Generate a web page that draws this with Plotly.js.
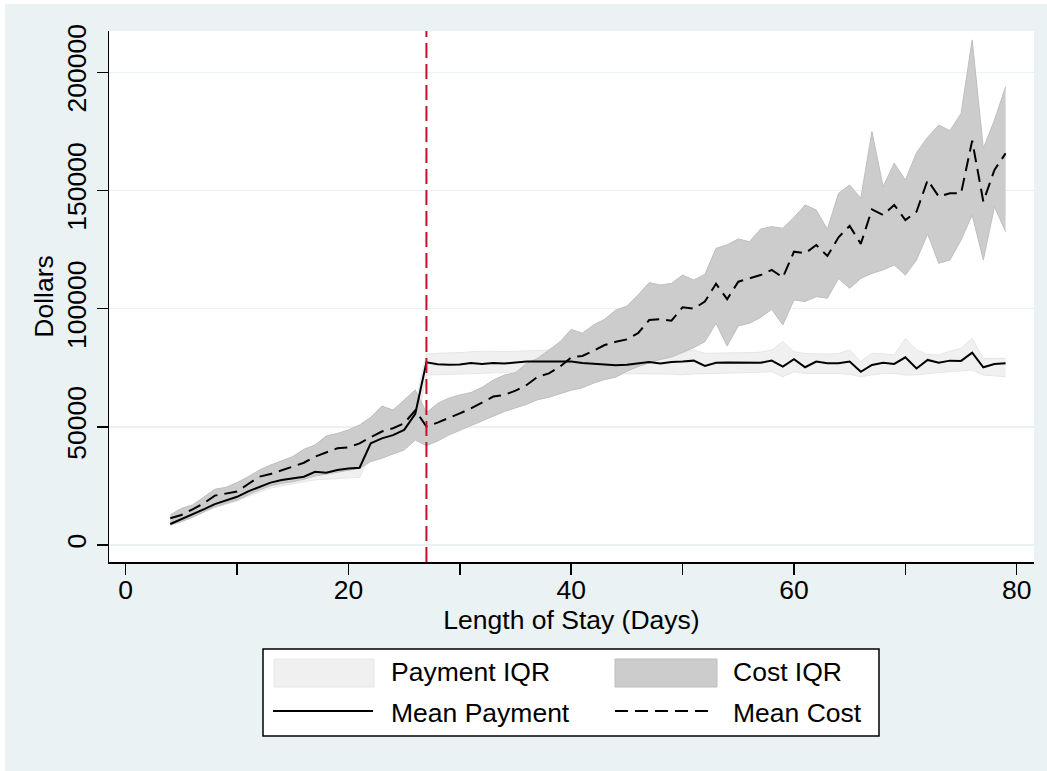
<!DOCTYPE html>
<html>
<head>
<meta charset="utf-8">
<script src="https://cdn.plot.ly/plotly-3.0.1.min.js"></script>
<style>
  html, body { margin: 0; padding: 0; background: #ffffff; }
  #chart { position: absolute; left: 5px; top: 4px; width: 1042px; height: 767px; }
</style>
</head>
<body>
<div id="chart"></div>
<script>
// ---------------- DATA ----------------
const days = [4,5,6,7,8,9,10,11,12,13,14,15,16,17,18,19,20,21,22,23,24,25,26,27,28,29,
  30,31,32,33,34,35,36,37,38,39,40,41,42,43,44,45,46,47,48,49,50,51,52,53,54,55,56,57,58,59,
  60,61,62,63,64,65,66,67,68,69,70,71,72,73,74,75,76,77,78,79];

const meanPayment = [8900,10900,13000,15100,17300,18900,20400,22700,24700,26400,27500,28200,28900,31000,30600,31700,32400,32700,43000,45100,46500,48700,55500,
  77300,76500,76300,76400,77000,76600,77000,76800,77200,77600,77600,77600,77400,77600,77000,76600,76400,76000,76300,76800,77400,76800,77400,77600,78000,
  75800,77100,77200,77100,77100,77100,78000,75500,78600,75200,77600,76900,76900,77600,73300,76200,77100,76600,79400,74700,78300,77100,78000,77900,81400,75200,76600,76900];

const meanCost = [11300,12700,15100,17600,20900,21600,22600,25800,28900,30000,31700,33100,34800,37400,39100,40900,41300,43000,45600,48000,49400,51500,57000,
  50100,51800,53600,55700,57800,60200,62800,63500,65300,67700,71200,72600,75500,79400,80000,82200,84600,86000,87000,89600,95200,95500,94900,100600,100000,
  103000,110500,104000,111400,112800,114200,116400,113200,124100,123400,126900,122300,130200,135000,127400,142000,139600,143900,137500,141000,154400,147400,148800,148800,171100,145300,158700,165700];

const costIQRLow = [8500,9900,11700,14100,16200,17600,19000,21200,23300,25000,26100,26800,27800,29200,30000,31000,31700,32400,35300,36700,38500,40200,44400,
  42000,44000,46500,48500,50500,52500,54500,56500,58000,59500,61500,62500,64000,65500,66500,68500,70000,71000,73500,75500,77000,78500,79500,81500,83500,
  86000,93800,84200,92700,93800,96300,99700,93100,103700,103000,105100,104400,112800,108600,112800,114900,116400,118500,114200,120600,131600,119200,120600,129000,139600,120600,143100,132600];

const costIQRHigh = [12700,15500,16900,20400,23600,24400,26400,28900,31700,33800,35700,37400,40500,42300,46100,47200,48700,50800,54000,58800,57100,61300,65600,
  56000,59900,62100,63500,64500,66700,69800,71900,72900,76900,79000,82500,86000,91200,89600,93100,95500,99400,101100,105800,111000,110000,110700,114200,112100,
  114500,125500,127000,129500,128300,133700,134700,134000,138600,143900,141700,133600,148800,152300,146700,174900,151600,161500,154400,166000,172500,177700,175300,182600,213700,167800,179800,193900];

const payIQRLow = [8000,9800,11800,13800,15800,17200,18600,20600,22400,24000,25000,25800,26500,27600,27800,28200,28400,28600,38500,40500,42000,44000,48000,
  71900,72000,72000,72300,72500,72600,72900,72900,73000,72900,72800,72600,72600,72600,72500,72400,72400,72600,72600,72700,72600,72400,72300,72000,72400,
  72600,72600,72700,72800,72900,73100,73300,71200,73300,72600,72600,72600,72600,72200,71200,72000,72600,72600,71900,72000,72600,73000,73300,73600,74000,71900,71500,71200];

const payIQRHigh = [10000,12200,14300,16500,18800,20500,22200,24500,26800,28500,29800,30600,31400,33500,33200,34400,35000,35400,47500,49500,51000,53500,60000,
  80800,81100,81100,81400,81800,82000,82000,81800,82000,82300,82500,82500,82500,82500,82400,82200,82000,81800,81800,81800,81800,81800,81700,81400,82500,
  81100,81100,81300,81300,81400,81600,82500,86000,81800,81000,80800,80800,81000,82500,77600,81100,80900,80400,87400,82500,80600,80400,82000,83200,87400,79000,79000,79000];

const cutoffDay = 27;
const xTickVals = [0,10,20,30,40,50,60,70,80];
const xTickText = ['0','','20','','40','','60','','80'];
const yTickVals = [0,50000,100000,150000,200000];
const yTickText = ['0','50000','100000','150000','200000'];
const legendLabels = ['Payment IQR','Cost IQR','Mean Payment','Mean Cost'];

// ---------------- STYLE ----------------
const FONT = 'Liberation Sans, Arial, Helvetica, sans-serif';
const FS = 26.5;
const BG = '#EAF2F3';
const PAY_FILL = '#F0F0F0', PAY_EDGE = '#E6E6E6';
const COST_FILL = '#CCCCCC', COST_EDGE = '#BEBEBE';
const RED = '#C8102E';
const COST_DASH = '13px,7px';

// plot area geometry (div pixels)
const W = 1042, H = 767;
const M = {l:104, r:13, t:27, b:209};
const PW = W - M.l - M.r, PH = H - M.t - M.b;
// page pixel -> paper coordinate helpers (div is offset by 5,4 on the page)
const px = v => (v - 5 - M.l) / PW;
const py = v => (H - M.b - (v - 4)) / PH;

const traces = [
  {x: days, y: payIQRLow, type: 'scatter', mode: 'lines', line: {color: PAY_EDGE, width: 1}, hoverinfo: 'skip', showlegend: false},
  {x: days, y: payIQRHigh, type: 'scatter', mode: 'lines', fill: 'tonexty', fillcolor: PAY_FILL, line: {color: PAY_EDGE, width: 1}, name: legendLabels[0], showlegend: false},
  {x: days, y: costIQRLow, type: 'scatter', mode: 'lines', line: {color: COST_EDGE, width: 1}, hoverinfo: 'skip', showlegend: false},
  {x: days, y: costIQRHigh, type: 'scatter', mode: 'lines', fill: 'tonexty', fillcolor: COST_FILL, line: {color: COST_EDGE, width: 1}, name: legendLabels[1], showlegend: false},
  {x: days, y: meanPayment, type: 'scatter', mode: 'lines', line: {color: '#000000', width: 2}, name: legendLabels[2], showlegend: false},
  {x: days, y: meanCost, type: 'scatter', mode: 'lines', line: {color: '#000000', width: 2, dash: COST_DASH}, name: legendLabels[3], showlegend: false}
];

const shapes = [
  {type: 'line', xref: 'x', yref: 'paper', x0: cutoffDay, x1: cutoffDay, y0: 0, y1: 1,
   line: {color: RED, width: 2, dash: '15px,6px'}, layer: 'above'},
  // legend box
  {type: 'rect', xref: 'paper', yref: 'paper', x0: px(263), x1: px(879), y0: py(736), y1: py(649),
   line: {color: '#000000', width: 1.5}, fillcolor: '#FFFFFF', layer: 'above'},
  {type: 'rect', xref: 'paper', yref: 'paper', x0: px(274), x1: px(374), y0: py(687), y1: py(659),
   line: {color: PAY_EDGE, width: 1}, fillcolor: PAY_FILL, layer: 'above'},
  {type: 'rect', xref: 'paper', yref: 'paper', x0: px(615), x1: px(717), y0: py(687), y1: py(659),
   line: {color: COST_EDGE, width: 1}, fillcolor: COST_FILL, layer: 'above'},
  {type: 'line', xref: 'paper', yref: 'paper', x0: px(273), x1: px(373), y0: py(711), y1: py(711),
   line: {color: '#000000', width: 2}, layer: 'above'},
  {type: 'line', xref: 'paper', yref: 'paper', x0: px(615), x1: px(715), y0: py(711), y1: py(711),
   line: {color: '#000000', width: 2, dash: COST_DASH}, layer: 'above'}
];

const legendTextPos = [[389, 672], [731, 672], [389, 713], [731, 713]];
const annotations = legendLabels.map((t, i) => ({
  text: t, xref: 'paper', yref: 'paper', x: px(legendTextPos[i][0]), y: py(legendTextPos[i][1]),
  xanchor: 'left', yanchor: 'middle', showarrow: false, font: {family: FONT, size: FS, color: '#000000'}
}));

const layout = {
  width: W, height: H,
  margin: M,
  paper_bgcolor: BG,
  plot_bgcolor: '#FFFFFF',
  font: {family: FONT, size: FS, color: '#000000'},
  showlegend: false,
  xaxis: {
    range: [-1.5, 81.55], tickvals: xTickVals, ticktext: xTickText,
    ticks: 'outside', ticklen: 11, tickwidth: 1.5, tickcolor: '#000000',
    ticklabelstandoff: -7,
    showline: true, linecolor: '#000000', linewidth: 1.5,
    showgrid: false, zeroline: false,
    tickfont: {family: FONT, size: FS, color: '#000000'},
    title: {text: 'Length of Stay (Days)', font: {family: FONT, size: FS, color: '#000000'}, standoff: 0},
    automargin: false
  },
  yaxis: {
    range: [-7193, 217470], tickvals: yTickVals, ticktext: yTickText,
    ticks: 'outside', ticklen: 11, tickwidth: 1.5, tickcolor: '#000000', tickangle: -90,
    showline: true, linecolor: '#000000', linewidth: 1.5,
    showgrid: true, gridcolor: BG, gridwidth: 1.5, zeroline: false,
    tickfont: {family: FONT, size: FS, color: '#000000'},
    title: {text: 'Dollars', font: {family: FONT, size: FS, color: '#000000'}, standoff: 0},
    automargin: false
  },
  shapes: shapes,
  annotations: annotations
};

Plotly.newPlot('chart', traces, layout, {displayModeBar: false, staticPlot: true});
</script>
</body>
</html>
